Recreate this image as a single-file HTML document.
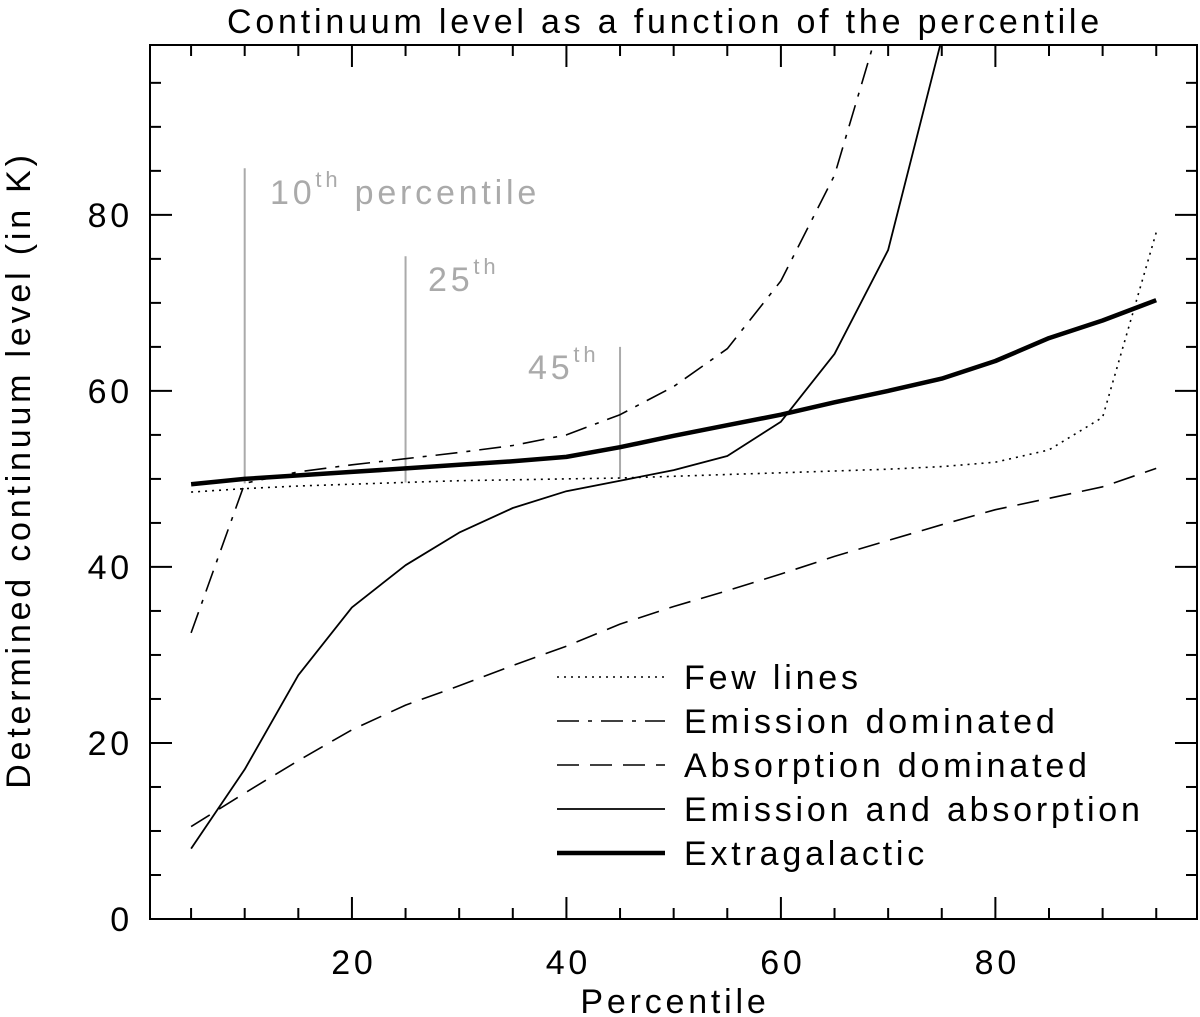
<!DOCTYPE html>
<html><head><meta charset="utf-8"><style>
html,body{margin:0;padding:0;background:#fff;}
svg{display:block;font-family:"Liberation Sans",sans-serif;}
text{letter-spacing:3.8px;}
</style></head><body>
<svg id="chart" width="1200" height="1017" viewBox="0 0 1200 1017"></svg>
<script>
const percentiles=[5,10,15,20,25,30,35,40,45,50,55,60,65,70,75,80,85,90,95];
const fewLines=[48.5,48.9,49.2,49.4,49.6,49.8,49.9,50.0,50.1,50.3,50.5,50.7,50.9,51.1,51.4,51.9,53.3,57,78];
const emissionDom=[32.5,49.5,50.8,51.6,52.3,53.0,53.8,55,57.3,60.5,64.8,72.5,84.5,105];
const absorptionDom=[10.5,14.3,18,21.5,24.3,26.5,28.8,31,33.5,35.5,37.3,39.2,41.2,43,44.8,46.5,47.8,49.1,51.2];
const emisAbs=[8,17,27.7,35.4,40.2,43.9,46.7,48.6,49.8,51,52.6,56.5,64.2,76,100];
const extragalactic=[49.4,50,50.4,50.8,51.2,51.6,52,52.5,53.6,54.9,56.1,57.3,58.7,60,61.4,63.4,66,68,70.3];
const xTicks=[20,40,60,80];
const yTicks=[0,20,40,60,80];
const markerX=[10,25,45];
const markerBase=[49.5,49.6,50];
const markerTop=[85.3,75.3,65];

const L=150,R=1197,T=45,B=919;
const X0=1.17,X1=98.8,Y0=0,Y1=99.3;
const sx=v=>L+(v-X0)/(X1-X0)*(R-L);
const sy=v=>B-(v-Y0)/(Y1-Y0)*(B-T);
const NS='http://www.w3.org/2000/svg';
const svg=document.getElementById('chart');
function mk(tag,attrs,parent){const e=document.createElementNS(NS,tag);for(const k in attrs)e.setAttribute(k,attrs[k]);(parent||svg).appendChild(e);return e;}
const FS=34;

const defs=mk('defs',{});
const cp=mk('clipPath',{id:'clip'},defs);
mk('rect',{x:L,y:T,width:R-L,height:B-T},cp);

const frame=mk('rect',{x:L,y:T,width:R-L,height:B-T,fill:'none',stroke:'#000','stroke-width':2});



const tg=mk('g',{stroke:'#000','stroke-width':2});


for(let v=5;v<=95;v+=5){const maj=v%20===0;const len=maj?22:11;const x=sx(v);
 mk('line',{x1:x,y1:B,x2:x,y2:B-len},tg);mk('line',{x1:x,y1:T,x2:x,y2:T+len},tg);}
for(let v=5;v<=95;v+=5){const maj=v%20===0;const len=maj?22:11;const y=sy(v);
 mk('line',{x1:L,y1:y,x2:L+len,y2:y},tg);mk('line',{x1:R,y1:y,x2:R-len,y2:y},tg);}
xTicks.forEach(v=>{const t=mk('text',{x:sx(v)+2,y:974,'font-size':FS,'text-anchor':'middle'});t.textContent=v;
 });
yTicks.forEach(v=>{const t=mk('text',{x:133,y:sy(v)+12,'font-size':FS,'text-anchor':'end'});t.textContent=v;
 });

let t=mk('text',{x:665,y:33,'font-size':FS,'text-anchor':'middle'});t.textContent='Continuum level as a function of the percentile';

t=mk('text',{x:675,y:1013,'font-size':FS,'text-anchor':'middle'});t.textContent='Percentile';

t=mk('text',{x:0,y:0,'font-size':FS,'text-anchor':'middle',transform:'translate(30,470) rotate(-90)'});t.textContent='Determined continuum level (in K)';


const labels=[['10','th',' percentile',270,204],['25','th','',428,291],['45','th','',528,379]];
markerX.forEach((v,i)=>{const l=mk('line',{x1:sx(v),y1:sy(markerBase[i]),x2:sx(v),y2:sy(markerTop[i]),stroke:'#aaa','stroke-width':2});
 
 const [n,s,rest,lx,ly]=labels[i];
 const tx=mk('text',{x:lx,y:ly,'font-size':FS,fill:'#aaa'});
 
 const a=mk('tspan',{},tx);a.textContent=n;
 const b=mk('tspan',{'font-size':22,dy:-17},tx);b.textContent=s;
 if(rest){const c=mk('tspan',{dy:17},tx);c.textContent=rest;}
});

const series=[
 ['few-lines',fewLines,'2 5',1.6],
 ['emission-dominated',emissionDom,'22 9 4 9',1.6],
 ['absorption-dominated',absorptionDom,'22 11',1.6],
 ['emission-and-absorption',emisAbs,'',1.8],
 ['extragalactic',extragalactic,'',4.5]];
const sg=mk('g',{'clip-path':'url(#clip)'});
series.forEach(([name,vals,dash,w])=>{
 const d=vals.map((v,i)=>(i?'L':'M')+sx(percentiles[i]).toFixed(1)+','+sy(v).toFixed(1)).join(' ');
 const p=mk('path',{d:d,fill:'none',stroke:'#000','stroke-width':w,'stroke-dasharray':dash||'none','stroke-linejoin':'round'},sg);
 
});

const legNames=['Few lines','Emission dominated','Absorption dominated','Emission and absorption','Extragalactic'];
const lg=mk('g',{});

series.forEach(([name,vals,dash,w],i)=>{
 const y=677+i*44;
 const e=mk('g',{},lg);
 
 mk('line',{x1:557,y1:y,x2:665,y2:y,stroke:'#000','stroke-width':w,'stroke-dasharray':dash||'none'},e);
 const tx=mk('text',{x:684,y:y+12,'font-size':FS},e);tx.textContent=legNames[i];
});
</script>
</body></html>
